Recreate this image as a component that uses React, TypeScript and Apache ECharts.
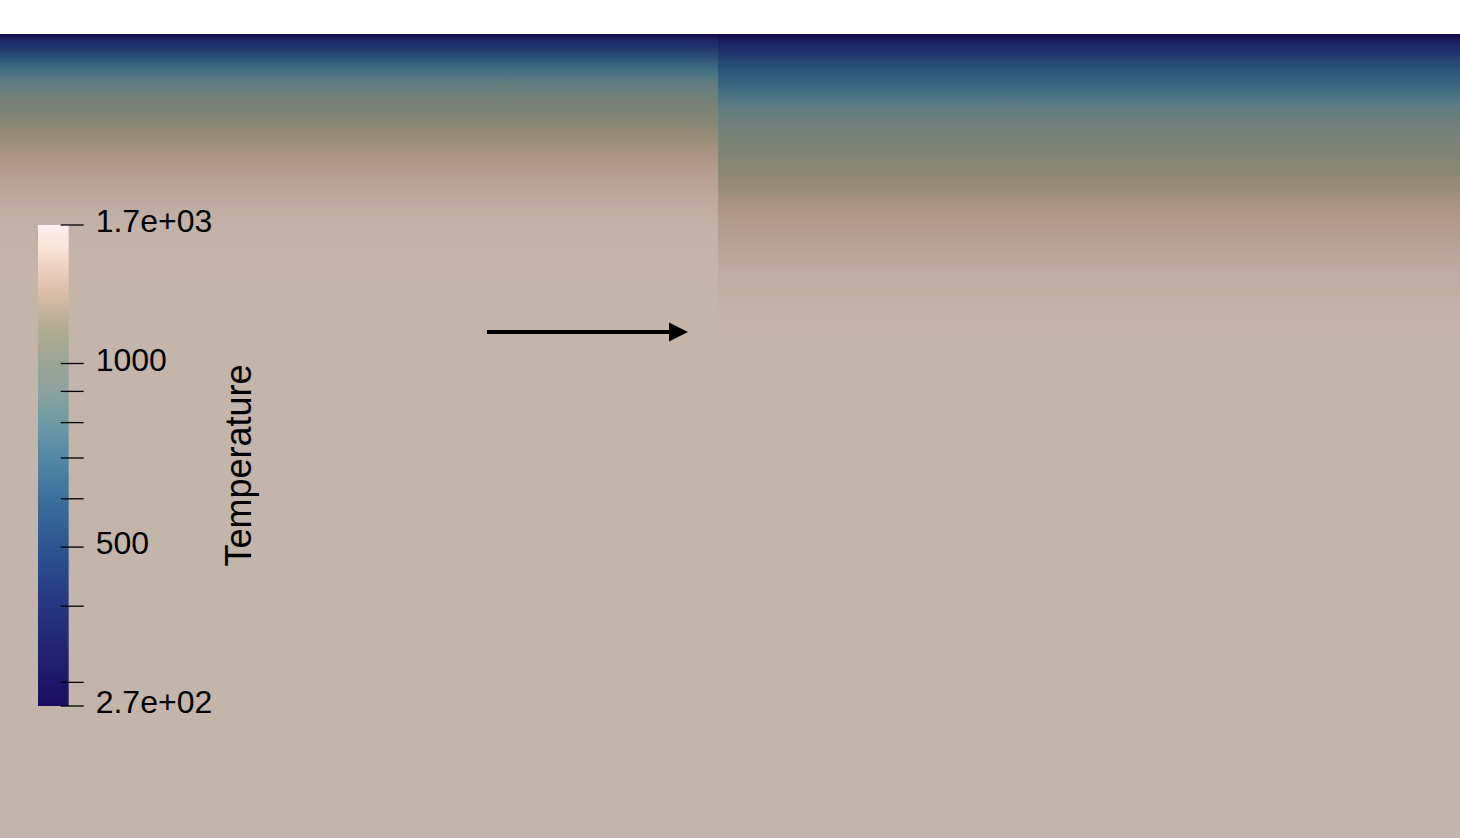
import React, { useEffect, useRef } from "react";
import * as echarts from "echarts";

// ---- colour map (position 0 = bottom, 1 = top) ----
const cmapPos = [0, 0.05, 0.15, 0.25, 0.33, 0.43, 0.52, 0.59, 0.65, 0.71, 0.78, 0.82, 0.86, 0.91, 0.95, 1];
const cmapColors = [
  "#1a0c60", "#1e1668", "#232a78", "#283e86", "#2e5590", "#3a6f9c", "#548aa4", "#6f9aa4",
  "#8aa29f", "#9aa596", "#b0ab92", "#c3b39c", "#dbbea9", "#ecd0c4", "#f8e4d6", "#fdf0ef",
];

// ---- colour bar range (log scale) and ticks ----
const T_MIN = 274.4;
const T_MAX = 1687;
const colorbarTicks = [T_MIN, 300, 400, 500, 600, 700, 800, 900, 1000, T_MAX];
const colorbarLabels = [T_MIN, 500, 1000, T_MAX];
const colorbarTitle = "Temperature";

// ---- domain ----
const DOMAIN_X = [0, 1460];
const DOMAIN_DEPTH = [0, 804];
const T_BACKGROUND = 1550;

// left block (x 0 - 718): depth samples and temperatures
const leftX = [0, 718];
const leftDepth = [0, 6, 16, 29, 46, 63, 79, 96, 113, 129, 146, 163, 179, 196, 229, 263];
const leftTemp = [274, 395, 473, 644, 816, 927, 1033, 1153, 1262, 1333, 1407, 1458, 1500, 1527, 1541, 1550];

// right block (x 718 - 1460)
const rightX = [718, 1460];
const rightDepth = [0, 9, 23, 36, 53, 73, 96, 119, 139, 163, 186, 209, 236, 263, 289, 301];
const rightTemp = [274, 370, 473, 589, 680, 831, 944, 1052, 1131, 1262, 1344, 1407, 1472, 1515, 1535, 1540];

// annotation arrow (domain units)
const arrowFrom = [487, 298];
const arrowTo = [688, 298];

const SHADE = 0.79; // lighting of the rendered surface

function hexToRgb(h: string) {
  const n = parseInt(h.slice(1), 16);
  return [(n >> 16) & 255, (n >> 8) & 255, n & 255];
}
const cmapRgb = cmapColors.map(hexToRgb);

function cmap(t: number, shade = 1) {
  t = Math.max(0, Math.min(1, t));
  let i = 0;
  while (i < cmapPos.length - 2 && t > cmapPos[i + 1]) i++;
  const f = (t - cmapPos[i]) / (cmapPos[i + 1] - cmapPos[i]);
  const a = cmapRgb[i], b = cmapRgb[i + 1];
  const c = [0, 1, 2].map((k) => Math.round((a[k] + (b[k] - a[k]) * f) * shade));
  return `rgb(${c[0]},${c[1]},${c[2]})`;
}
const LMIN = Math.log10(T_MIN);
const LMAX = Math.log10(T_MAX);
const tOf = (T: number) => (Math.log10(T) - LMIN) / (LMAX - LMIN);

function blocks(xr: number[], depth: number[], temp: number[]) {
  const out: number[][] = [];
  for (let i = 0; i < depth.length - 1; i++) {
    out.push([xr[0], xr[1], depth[i], depth[i + 1], temp[i], temp[i + 1]]);
  }
  return out;
}

function fmtT(T: number) {
  if (Math.abs(T - T_MIN) < 1 || Math.abs(T - T_MAX) < 1) {
    const [m, e] = T.toExponential(1).split("e");
    const sign = e[0] === "-" ? "-" : "+";
    const d = e.replace(/[+-]/, "").padStart(2, "0");
    return `${m}e${sign}${d}`;
  }
  return String(Math.round(T));
}

const FONT = "'Liberation Sans', Arial, sans-serif";
const TICK_IN = 8;   // px a tick reaches into the bar
const TICK_OUT = 15; // px a tick sticks out of the bar
const LABEL_GAP = 27; // px from bar edge to label
const LABEL_RAISE = 4; // px labels sit above their tick

export default function App() {
  const ref = useRef<HTMLDivElement>(null);
  useEffect(() => {
    document.body.style.margin = "0";
    const chart = echarts.init(ref.current!, null, { renderer: "svg" });

    const fieldRender = (params: any, api: any) => {
      const x0 = api.value(0), x1 = api.value(1), d0 = api.value(2), d1 = api.value(3);
      const T0 = api.value(4), T1 = api.value(5);
      const p0 = api.coord([x0, d0]);
      const p1 = api.coord([x1, d1]);
      const stops = [];
      const n = 8;
      for (let k = 0; k <= n; k++) {
        const f = k / n;
        const T = T0 * Math.pow(T1 / T0, f);
        stops.push({ offset: f, color: cmap(tOf(T), SHADE) });
      }
      return {
        type: "rect",
        shape: { x: p0[0], y: p0[1], width: p1[0] - p0[0], height: p1[1] - p0[1] + 0.7 },
        style: { fill: new echarts.graphic.LinearGradient(0, 0, 0, 1, stops) },
      };
    };

    const option: any = {
      animation: false,
      backgroundColor: "#ffffff",
      grid: [
        { left: 0, right: 0, top: 34, bottom: 0 },
        // colour-bar grid: bar occupies x in [0,1] of a [0,1.5] axis
        { left: 38, top: 225, width: 46, height: 481 },
      ],
      xAxis: [
        { type: "value", gridIndex: 0, min: DOMAIN_X[0], max: DOMAIN_X[1], show: false },
        { type: "value", gridIndex: 1, min: 0, max: 1.5, show: false },
      ],
      yAxis: [
        { type: "value", gridIndex: 0, min: DOMAIN_DEPTH[0], max: DOMAIN_DEPTH[1], inverse: true, show: false },
        {
          type: "value",
          gridIndex: 1,
          z: 20,
          min: LMIN,
          max: LMAX,
          position: "right",
          axisLine: { show: false },
          splitLine: { show: false },
          axisTick: { show: false },
          axisLabel: { show: false },
          name: colorbarTitle,
          nameLocation: "middle",
          nameRotate: 90,
          nameGap: 136,
          nameTextStyle: { color: "#000", fontSize: 36, fontFamily: FONT },
        },
      ],
      series: [
        {
          type: "custom",
          name: "background",
          xAxisIndex: 0,
          yAxisIndex: 0,
          z: 1,
          renderItem: fieldRender,
          data: [[DOMAIN_X[0], DOMAIN_X[1], DOMAIN_DEPTH[0], DOMAIN_DEPTH[1], T_BACKGROUND, T_BACKGROUND]],
          silent: true,
        },
        {
          type: "custom",
          name: "left",
          xAxisIndex: 0,
          yAxisIndex: 0,
          z: 2,
          renderItem: fieldRender,
          data: blocks(leftX, leftDepth, leftTemp),
          silent: true,
        },
        {
          type: "custom",
          name: "right",
          xAxisIndex: 0,
          yAxisIndex: 0,
          z: 3,
          renderItem: fieldRender,
          data: blocks(rightX, rightDepth, rightTemp),
          silent: true,
        },
        {
          type: "custom",
          name: "arrow",
          xAxisIndex: 0,
          yAxisIndex: 0,
          z: 5,
          silent: true,
          data: [[arrowFrom[0], arrowFrom[1], arrowTo[0], arrowTo[1]]],
          renderItem: (params: any, api: any) => {
            const a = api.coord([api.value(0), api.value(1)]);
            const b = api.coord([api.value(2), api.value(3)]);
            const head = 19, half = 9.5;
            return {
              type: "group",
              children: [
                {
                  type: "line",
                  shape: { x1: a[0], y1: a[1], x2: b[0] - head + 1, y2: b[1] },
                  style: { stroke: "#000", lineWidth: 4 },
                },
                {
                  type: "polygon",
                  shape: { points: [[b[0] - head, b[1] - half], [b[0], b[1]], [b[0] - head, b[1] + half]] },
                  style: { fill: "#000" },
                },
              ],
            };
          },
        },
        {
          type: "custom",
          name: "colorbar",
          xAxisIndex: 1,
          yAxisIndex: 1,
          z: 6,
          silent: true,
          data: [[0, 1, LMIN, LMAX]],
          renderItem: (params: any, api: any) => {
            const p0 = api.coord([api.value(0), api.value(3)]);
            const p1 = api.coord([api.value(1), api.value(2)]);
            const stops = [];
            for (let i = cmapPos.length - 1; i >= 0; i--) {
              stops.push({ offset: 1 - cmapPos[i], color: cmapColors[i] });
            }
            return {
              type: "rect",
              shape: { x: p0[0], y: p0[1], width: p1[0] - p0[0], height: p1[1] - p0[1] },
              style: { fill: new echarts.graphic.LinearGradient(0, 0, 0, 1, stops) },
            };
          },
        },
        {
          type: "custom",
          name: "colorbar ticks",
          xAxisIndex: 1,
          yAxisIndex: 1,
          z: 7,
          silent: true,
          data: colorbarTicks.map((v) => [1, Math.log10(v)]),
          renderItem: (params: any, api: any) => {
            const p = api.coord([api.value(0), api.value(1)]);
            return {
              type: "line",
              shape: { x1: p[0] - TICK_IN, y1: p[1], x2: p[0] + TICK_OUT, y2: p[1] },
              style: { stroke: "#000", lineWidth: 1.3 },
            };
          },
        },
        {
          type: "custom",
          name: "colorbar labels",
          xAxisIndex: 1,
          yAxisIndex: 1,
          z: 8,
          silent: true,
          data: colorbarLabels.map((v) => [1, Math.log10(v)]),
          renderItem: (params: any, api: any) => {
            const p = api.coord([api.value(0), api.value(1)]);
            const T = Math.pow(10, api.value(1));
            return {
              type: "text",
              style: {
                text: fmtT(T),
                x: p[0] + LABEL_GAP,
                y: p[1] - LABEL_RAISE,
                align: "left",
                verticalAlign: "middle",
                fill: "#000",
                font: `32px ${FONT}`,
              },
            };
          },
        },
      ],
    };
    chart.setOption(option);
    return () => chart.dispose();
  }, []);
  return <div ref={ref} style={{ width: 1460, height: 838 }} />;
}
